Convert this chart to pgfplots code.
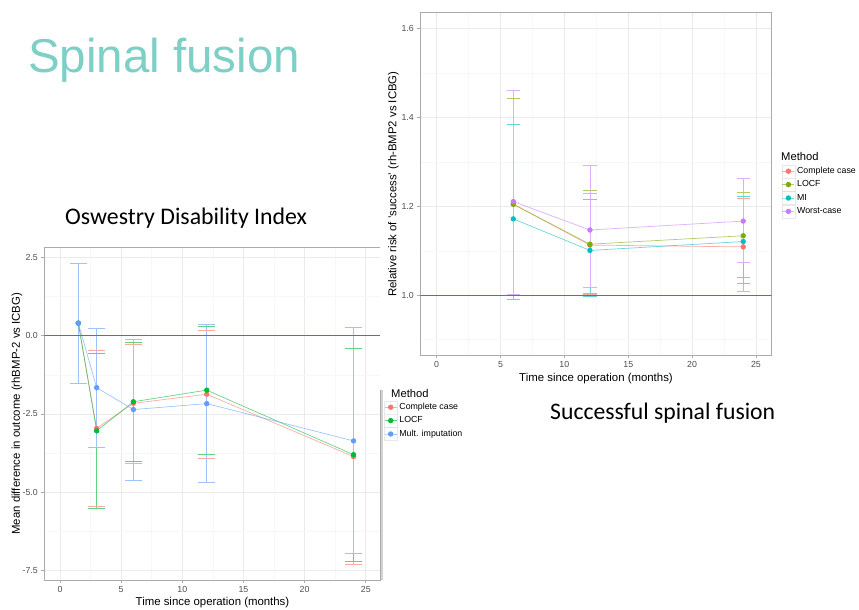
\documentclass[border=0pt]{standalone}
\usepackage{fontspec}
\setmainfont{Liberation Sans}
\newfontfamily\calibri{Carlito}
\usepackage{pgfplots}
\pgfplotsset{compat=1.18}
\usepackage{pgfplotstable}

\definecolor{cR}{HTML}{F8766D}
\definecolor{cG}{HTML}{00BA38}
\definecolor{cB}{HTML}{619CFF}
\definecolor{cO}{HTML}{7CAE00}
\definecolor{cT}{HTML}{00BFC4}
\definecolor{cP}{HTML}{C77CFF}
\definecolor{titleC}{HTML}{7ECFC6}
\definecolor{gridMaj}{HTML}{EBEBEB}
\definecolor{gridMin}{HTML}{F7F7F7}
\definecolor{frameC}{HTML}{ABABAB}
\definecolor{tickC}{HTML}{4D4D4D}

% Oswestry Disability Index: x, mean, error plus, error minus, lower, upper
\pgfplotstableread{
x y ep em lo hi
1.5 0.40 1.91 1.92 -1.52 2.31
3 -2.96 2.49 2.50 -5.46 -0.47
6 -2.16 1.88 1.90 -4.06 -0.28
12 -1.87 2.04 2.04 -3.91 0.17
24 -3.86 3.44 3.44 -7.30 -0.42
}\odiCC
\pgfplotstableread{
x y ep em lo hi
1.5 0.40 1.91 1.92 -1.52 2.31
3 -3.04 2.47 2.47 -5.51 -0.57
6 -2.11 1.90 1.91 -4.02 -0.21
12 -1.74 2.03 2.05 -3.79 0.29
24 -3.80 3.40 3.41 -7.21 -0.40
}\odiLOCF
\pgfplotstableread{
x y ep em lo hi
1.5 0.40 1.91 1.92 -1.52 2.31
3 -1.66 1.89 1.90 -3.56 0.23
6 -2.36 2.24 2.25 -4.61 -0.12
12 -2.17 2.52 2.51 -4.68 0.35
24 -3.36 3.62 3.59 -6.95 0.26
}\odiMI

% Successful spinal fusion: relative risk
\pgfplotstableread{
x y ep em lo hi
6 1.205 0.238 0.202 1.003 1.443
12 1.113 0.117 0.110 1.003 1.230
24 1.109 0.1085 0.101 1.008 1.2175
}\rrCC
\pgfplotstableread{
x y ep em lo hi
6 1.205 0.238 0.202 1.003 1.443
12 1.115 0.121 0.110 1.005 1.236
24 1.134 0.098 0.0935 1.0405 1.232
}\rrLOCF
\pgfplotstableread{
x y ep em lo hi
6 1.172 0.212 0.181 0.991 1.384
12 1.101 0.116 0.104 0.997 1.217
24 1.121 0.101 0.095 1.026 1.222
}\rrMI
\pgfplotstableread{
x y ep em lo hi
6 1.211 0.250 0.208 1.003 1.461
12 1.147 0.146 0.129 1.018 1.293
24 1.167 0.097 0.093 1.074 1.264
}\rrWC

\pgfplotsset{
  gg/.style={
    scale only axis,
    axis line style={frameC, line width=0.6pt},
    grid=both,
    major grid style={gridMaj, line width=0.6pt},
    minor grid style={gridMin, line width=0.5pt},
    tick align=outside,
    major tick length=3pt,
    minor tick length=0pt,
    tick style={frameC, line width=0.6pt},
    tick pos=left,
    ticklabel style={font=\fontsize{8.8}{10}\selectfont, text=tickC},
    label style={font=\fontsize{11.4}{13}\selectfont},
    legend cell align=left,
    legend style={draw=none, fill=none, inner sep=0pt, outer sep=0pt,
      row sep=0pt, column sep=2pt,
      font=\fontsize{8.8}{10}\selectfont,
      nodes={inner sep=0pt, outer sep=0pt}},
    legend image code/.code={
      \draw[gray!30, fill=white, line width=0.4pt] (0pt,-6.5pt) rectangle (13pt,6.5pt);
      \draw[##1, mark repeat=2, mark phase=2] plot coordinates {(0.5pt,0pt) (6.5pt,0pt) (12.5pt,0pt)};
    },
  },
  eb/.style={forget plot, color=#1!62!white, draw opacity=0, mark=none,
    error bars/.cd, y dir=both, y explicit, error mark=none,
    error bar style={draw=#1!62!white, draw opacity=1, line width=0.6pt}},
  cap/.style 2 args={forget plot, only marks, mark=-, mark size=#2,
    mark options={draw=#1!62!white, line width=0.6pt}},
  ln/.style={#1, line width=0.7pt, draw opacity=0.6, mark=*, mark size=2.3pt,
    mark options={solid, draw=#1, fill=#1, draw opacity=1, fill opacity=1}},
}

\begin{document}
\begin{tikzpicture}
\path[use as bounding box] (0pt,0pt) rectangle (859pt,610pt);

\node[anchor=base west, text=titleC, font=\fontsize{47.5}{50}\selectfont, inner sep=0pt] at (28pt,537pt) {Spinal fusion};
\node[anchor=base west, font=\calibri\fontsize{23.8}{26}\selectfont, inner sep=0pt] at (65pt,385pt) {Oswestry Disability Index};
\node[anchor=base west, font=\calibri\fontsize{23.7}{26}\selectfont, inner sep=0pt] at (550pt,190pt) {Successful spinal fusion};

% ---------------- Left: ODI ----------------
\begin{axis}[gg,
  at={(44.3pt,30pt)}, anchor=south west,
  width=336.4pt, height=332.7pt,
  xmin=-1.28, xmax=26.22, ymin=-7.80, ymax=2.82,
  xtick={0,5,10,15,20,25}, xticklabels={0,5,10,15,20,25},
  minor xtick={2.5,7.5,12.5,17.5,22.5},
  ytick={-7.5,-5,-2.5,0,2.5}, yticklabels={-7.5,-5.0,-2.5,0.0,2.5},
  minor ytick={-6.25,-3.75,-1.25,1.25},
  xlabel={Time since operation (months)},
  ylabel={Mean difference in outcome (rhBMP-2 vs ICBG)},
  xlabel style={at={(axis description cs:0.5,-0.0691)}, anchor=center},
  ylabel style={at={(axis description cs:-0.0812,0.5)}, anchor=center},
  legend style={at={(axis description cs:1.0098,0.5395)}, anchor=north west},
]
\addplot[eb=cR] table[x=x, y=y, y error plus=ep, y error minus=em] {\odiCC};
\addplot[cap={cR}{8.3pt}] table[x=x, y=lo] {\odiCC};
\addplot[cap={cR}{8.3pt}] table[x=x, y=hi] {\odiCC};
\addplot[eb=cG] table[x=x, y=y, y error plus=ep, y error minus=em] {\odiLOCF};
\addplot[cap={cG}{8.3pt}] table[x=x, y=lo] {\odiLOCF};
\addplot[cap={cG}{8.3pt}] table[x=x, y=hi] {\odiLOCF};
\addplot[eb=cB] table[x=x, y=y, y error plus=ep, y error minus=em] {\odiMI};
\addplot[cap={cB}{8.3pt}] table[x=x, y=lo] {\odiMI};
\addplot[cap={cB}{8.3pt}] table[x=x, y=hi] {\odiMI};
\addplot[ln=cR] table[x=x, y=y] {\odiCC};
\addlegendentry{Complete case}
\addplot[ln=cG] table[x=x, y=y] {\odiLOCF};
\addlegendentry{LOCF}
\addplot[ln=cB] table[x=x, y=y] {\odiMI};
\addlegendentry{Mult. imputation}
\addplot[forget plot, red!80!white, line width=1.3pt, mark=none] coordinates {(-1.28,0) (26.22,0)};
\end{axis}
\node[anchor=west, font=\fontsize{11.2}{13}\selectfont, inner sep=0pt] at (391pt,216pt) {Method};
\draw[white, line width=1.4pt] (380.7pt,220pt) -- (380.7pt,363.5pt);
\draw[gray!35, line width=2pt] (381.7pt,220pt) -- (381.7pt,29.5pt);

% ---------------- Right: fusion ----------------
\begin{axis}[gg,
  at={(420.3pt,254.7pt)}, anchor=south west,
  width=351.4pt, height=342.6pt,
  xmin=-1.28, xmax=26.23, ymin=0.865, ymax=1.636,
  xtick={0,5,10,15,20,25}, xticklabels={0,5,10,15,20,25},
  minor xtick={2.5,7.5,12.5,17.5,22.5},
  ytick={1.0,1.2,1.4,1.6}, yticklabels={1.0,1.2,1.4,1.6},
  minor ytick={0.9,1.1,1.3,1.5},
  xlabel={Time since operation (months)},
  ylabel={Relative risk of 'success' (rh-BMP2 vs ICBG)},
  xlabel style={at={(axis description cs:0.5,-0.0683)}, anchor=center},
  ylabel style={at={(axis description cs:-0.0763,0.5)}, anchor=center},
  legend style={at={(axis description cs:1.0285,0.5569)}, anchor=north west},
]
\addplot[eb=cR] table[x=x, y=y, y error plus=ep, y error minus=em] {\rrCC};
\addplot[cap={cR}{6.6pt}] table[x=x, y=lo] {\rrCC};
\addplot[cap={cR}{6.6pt}] table[x=x, y=hi] {\rrCC};
\addplot[eb=cO] table[x=x, y=y, y error plus=ep, y error minus=em] {\rrLOCF};
\addplot[cap={cO}{6.6pt}] table[x=x, y=lo] {\rrLOCF};
\addplot[cap={cO}{6.6pt}] table[x=x, y=hi] {\rrLOCF};
\addplot[eb=cT] table[x=x, y=y, y error plus=ep, y error minus=em] {\rrMI};
\addplot[cap={cT}{6.6pt}] table[x=x, y=lo] {\rrMI};
\addplot[cap={cT}{6.6pt}] table[x=x, y=hi] {\rrMI};
\addplot[eb=cP] table[x=x, y=y, y error plus=ep, y error minus=em] {\rrWC};
\addplot[cap={cP}{6.6pt}] table[x=x, y=lo] {\rrWC};
\addplot[cap={cP}{6.6pt}] table[x=x, y=hi] {\rrWC};
\addplot[ln=cR] table[x=x, y=y] {\rrCC};
\addlegendentry{Complete case}
\addplot[ln=cO] table[x=x, y=y] {\rrLOCF};
\addlegendentry{LOCF}
\addplot[ln=cT] table[x=x, y=y] {\rrMI};
\addlegendentry{MI}
\addplot[ln=cP] table[x=x, y=y] {\rrWC};
\addlegendentry{Worst-case}
\addplot[forget plot, red!80!white, line width=1.3pt, mark=none] coordinates {(-1.28,1) (26.23,1)};
\end{axis}
\node[anchor=west, font=\fontsize{11.2}{13}\selectfont, inner sep=0pt] at (781pt,453pt) {Method};
\end{tikzpicture}
\end{document}
